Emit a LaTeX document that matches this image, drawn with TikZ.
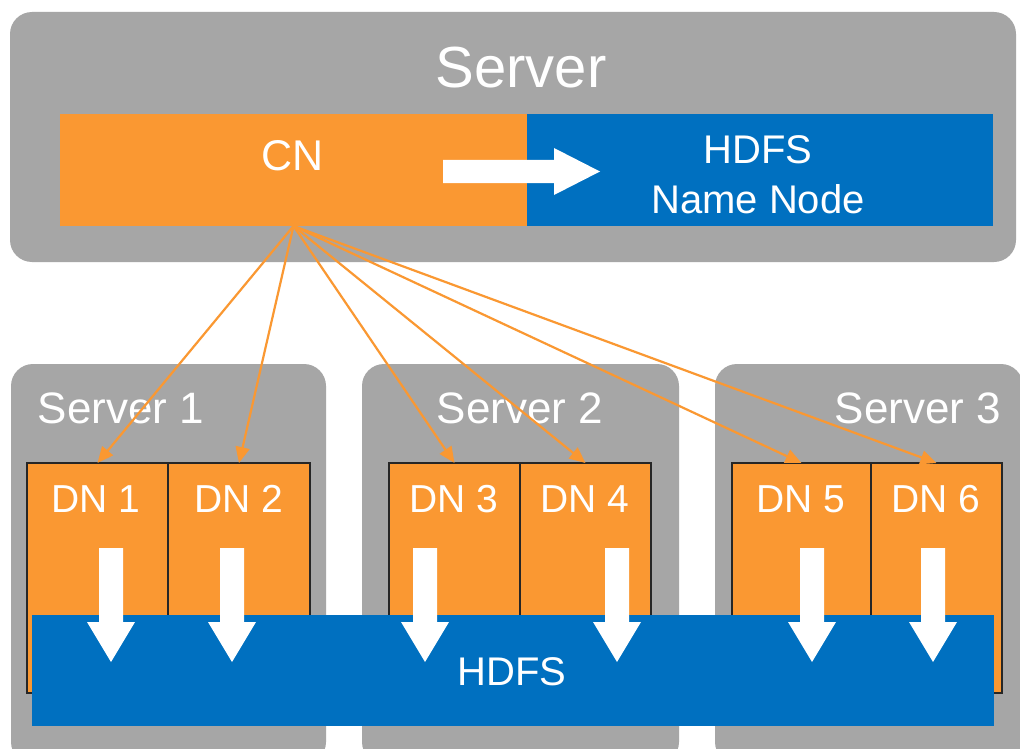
\documentclass[tikz,border=0pt]{standalone}
\usepackage[svgnames]{xcolor}
\usepackage{fontspec}
\setmainfont{Liberation Sans}
\usepackage{tikz}
\usetikzlibrary{
  arrows.meta,
  positioning}

\definecolor{hdfsorange}{RGB}{250,152,50}
\definecolor{hdfsblue}{RGB}{0,112,192}
\definecolor{servergray}{RGB}{166,166,166}

\begin{document}
\begin{tikzpicture}[x=1pt,y=-1pt]
\tikzset{
  every node/.style={inner sep=0pt, outer sep=0pt},
  server box/.style={fill=servergray, rounded corners=22pt, anchor=north west},
  cn box/.style={fill=hdfsorange, anchor=north west},
  nn box/.style={fill=hdfsblue},
  dn box/.style={fill=hdfsorange, draw=black!85, line width=1.5pt,
    minimum height=230pt},
  hdfs bar/.style={fill=hdfsblue, anchor=north west},
  label text/.style={text=white, anchor=base},
  cn link/.style={draw=hdfsorange, line width=2.2pt,
    -{Triangle[length=16pt,width=14pt]}},
}
\useasboundingbox (0,0) rectangle (1020,749);
\clip (0,0) rectangle (1020,749);
\fill[white] (0,0) rectangle (1020,749);

\node[server box, minimum width=1006pt, minimum height=250pt] (srv) at (10,12) {};
\node[server box, minimum width=315pt, minimum height=400pt] (srv1) at (11,364) {};
\node[server box, minimum width=317pt, minimum height=400pt] (srv2) at (362,364) {};
\node[server box, minimum width=308pt, minimum height=400pt] (srv3) at (715,364) {};

\node[label text, font=\fontsize{58}{60}\selectfont] (srvtext) at (521,88) {Server};
\node[label text, font=\fontsize{44}{48}\selectfont] (srv1text) at (121,423) {Server 1};
\node[label text, font=\fontsize{44}{48}\selectfont] (srv2text) at (520,423) {Server 2};
\node[label text, font=\fontsize{44}{48}\selectfont] (srv3text) at (918,423) {Server 3};

\node[cn box, minimum width=467pt, minimum height=112pt] (cn) at (60,114) {};
\node[nn box, minimum width=466pt, minimum height=112pt, right=0pt of cn] (nn) {};
\node[label text, font=\fontsize{43}{46}\selectfont] (cntext) at (293,171) {CN};
\node[label text, font=\fontsize{40}{44}\selectfont] (nntext) at (758,164) {HDFS};
\node[label text, font=\fontsize{40}{44}\selectfont] (nntext2) at (758,213) {Name Node};
\fill[white] (443,160) -- (554,160) -- (554,148) -- (600,171.5) -- (554,195)
  -- (554,183) -- (443,183) -- cycle;

\node[dn box, minimum width=141pt, anchor=north west] (dn1) at (27,463) {};
\node[dn box, minimum width=142pt, right=0pt of dn1] (dn2) {};
\node[dn box, minimum width=131pt, anchor=north west] (dn3) at (389,463) {};
\node[dn box, minimum width=131pt, right=0pt of dn3] (dn4) {};
\node[dn box, minimum width=139pt, anchor=north west] (dn5) at (732,463) {};
\node[dn box, minimum width=131pt, right=0pt of dn5] (dn6) {};

\foreach \d/\x in {1/96,2/239,3/454,4/585,5/801,6/936}
  \node[label text, font=\fontsize{39}{42}\selectfont] (dn\d text) at (\x,512) {DN \d};

\node[hdfs bar, minimum width=962pt, minimum height=111pt] (hdfs) at (32,615) {};
\node[label text, font=\fontsize{40}{44}\selectfont] (hdfstext) at (512,685) {HDFS};

\foreach \x in {111,232,425,617,812,933}
  \fill[white] (\x-12,548) -- (\x+12,548) -- (\x+12,622) -- (\x+24,622)
    -- (\x,662) -- (\x-24,622) -- (\x-12,622) -- cycle;

\foreach \d in {dn1,dn2,dn3,dn4,dn5,dn6}
  \draw[cn link] (cn.south) -- (\d.north);
\end{tikzpicture}
\end{document}
